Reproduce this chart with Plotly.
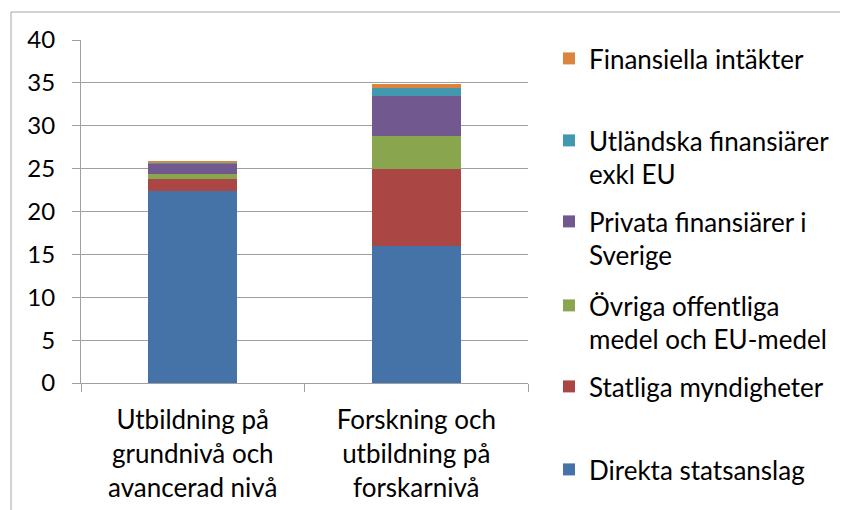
import plotly.graph_objects as go

categories = ["Utbildning på<br>grundnivå och<br>avancerad nivå",
              "Forskning och<br>utbildning på<br>forskarnivå"]

series_names = ["Direkta statsanslag",
                "Statliga myndigheter",
                "Övriga offentliga<br>medel och EU-medel",
                "Privata finansiärer i<br>Sverige",
                "Utländska finansiärer<br>exkl EU",
                "Finansiella intäkter"]

direkta = [22.4, 15.95]
statliga = [1.4, 8.95]
ovriga = [0.55, 3.9]
privata = [1.3, 4.65]
utlandska = [0.05, 0.95]
finansiella = [0.1, 0.45]

series_values = [direkta, statliga, ovriga, privata, utlandska, finansiella]
colors = ["#4572A7", "#AA4643", "#89A54E", "#71588F", "#4198AF", "#DB843D"]

y_ticks = [0, 5, 10, 15, 20, 25, 30, 35, 40]

FONT = "Lato"
FS_TICK = 24
FS = 26

# page offset (default body margin of the html page)
OFF = 8
W, H = 848 - OFF, 510 - OFF
# plot area in window pixels
L, R, T, B = 81, 528, 40, 383
PW, PH = R - L, B - T

def px_x(x):
    return (x - L) / PW

def px_y(y):
    return (B - y) / PH

fig = go.Figure()
legend_ids = ["legend", "legend2", "legend3", "legend4", "legend5", "legend6"]
for i, (name, vals, col) in enumerate(zip(series_names, series_values, colors)):
    fig.add_trace(go.Bar(x=categories, y=vals, name=name, marker_color=col,
                         marker_line_width=0, legend=legend_ids[i]))

# legend line-1 centres in window pixels (bottom entry first)
legend_centres = [470, 387, 306, 222, 141, 59]
legends = {}
for lid, cy in zip(legend_ids, legend_centres):
    legends[lid] = dict(x=px_x(549), y=px_y(cy - 24), xanchor="left", yanchor="top",
                        bgcolor="rgba(0,0,0,0)", valign="top",
                        font=dict(family=FONT, size=FS, color="#000000"))

fig.update_layout(
    width=W, height=H,
    margin=dict(l=L - OFF, r=W - (R - OFF), t=T - OFF, b=H - (B - OFF), autoexpand=False),
    barmode="stack", bargap=0.6,
    plot_bgcolor="white", paper_bgcolor="white",
    font=dict(family=FONT, size=FS, color="#000000"),
    showlegend=True,
    xaxis=dict(showline=True, linecolor="#A0A0A0", linewidth=1,
               ticks="outside", ticklen=8, tickcolor="#A0A0A0", tickson="boundaries",
               ticklabelstandoff=14,
               tickfont=dict(family=FONT, size=FS, color="#000000")),
    yaxis=dict(range=[0, 40], tickvals=y_ticks, showline=True, linecolor="#A0A0A0",
               linewidth=1, showgrid=True, gridcolor="#A0A0A0", gridwidth=1,
               ticks="outside", ticklen=8, tickcolor="#A0A0A0", zeroline=False,
               ticklabelstandoff=12,
               tickfont=dict(family=FONT, size=FS_TICK, color="#000000")),
    shapes=[dict(type="rect", xref="paper", yref="paper",
                 x0=px_x(11), y0=px_y(12), x1=px_x(1000), y1=px_y(700),
                 line=dict(color="#A6A6A6", width=1), layer="above")],
    **legends,
)

fig.write_html("out.html")
